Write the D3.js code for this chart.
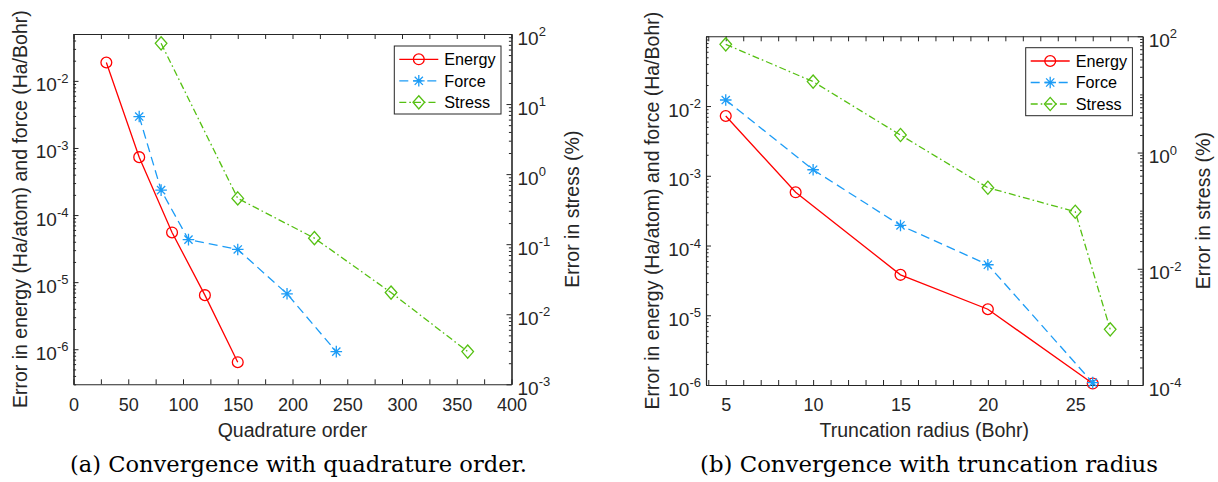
<!DOCTYPE html>
<html>
<head>
<meta charset="utf-8">
<script src="https://cdn.jsdelivr.net/npm/d3@7"></script>
<style>
  body { margin: 0; background: #fff; }
  svg { display: block; }
</style>
</head>
<body>
<svg id="fig" width="1218" height="482"></svg>
<script>
// ---- Panel (a): error versus quadrature order ----
const quadEnergyX = [30, 60, 90, 120, 150];
const quadEnergyY = [1.88e-2, 7.3e-4, 5.5e-5, 6.4e-6, 6.4e-7];
const quadForceX  = [60, 80, 105, 150, 195, 240];
const quadForceY  = [2.94e-3, 2.35e-4, 4.3e-5, 3.07e-5, 6.7e-6, 9.2e-7];
const quadStressX = [80, 150, 220, 290, 360];
const quadStressY = [73.6, 0.45, 0.122, 0.0204, 0.00293];

// ---- Panel (b): error versus truncation radius ----
const radEnergyX = [5, 9, 15, 20, 26];
const radEnergyY = [7.2e-3, 5.8e-4, 3.8e-5, 1.22e-5, 1.05e-6];
const radForceX  = [5, 10, 15, 20, 26];
const radForceY  = [1.22e-2, 1.22e-3, 1.94e-4, 5.3e-5, 1.08e-6];
const radStressX = [5, 10, 15, 20, 25, 27];
const radStressY = [72.8, 16.6, 2.0, 0.248, 0.0957, 9.06e-4];

// ---- Tick labels ----
const quadXTickLabels = [0, 50, 100, 150, 200, 250, 300, 350, 400];
const radXTickLabels  = [5, 10, 15, 20, 25];
const quadLeftExps  = [-6, -5, -4, -3, -2];
const quadRightExps = [-3, -2, -1, 0, 1, 2];
const radLeftExps   = [-6, -5, -4, -3, -2];
const radRightExps  = [-4, -2, 0, 2];

const seriesNames = ["Energy", "Force", "Stress"];

const svg = d3.select("#fig");
const FONT = "'Liberation Sans', Arial, Helvetica, sans-serif";
const SERIF = "'DejaVu Serif', 'Liberation Serif', serif";
const INK = "#262626";
const colors = { Energy: "#ff0000", Force: "#1c9cf6", Stress: "#55c012" };
const dashes = { Energy: null, Force: "9,5", Stress: "7,3,1.6,3" };

svg.append("rect").attr("width", 1218).attr("height", 482).attr("fill", "#fff");

function markerPath(kind) {
  if (kind === "Energy") {
    const r = 5.4;
    return `M${-r},0a${r},${r} 0 1,0 ${2 * r},0a${r},${r} 0 1,0 ${-2 * r},0Z`;
  }
  if (kind === "Force") {
    const a = 5.8, b = 4.1;
    return `M${-a},0H${a}M0,${-a}V${a}M${-b},${-b}L${b},${b}M${-b},${b}L${b},${-b}`;
  }
  const w = 5.8, h = 6.6;
  return `M0,${-h}L${w},0L0,${h}L${-w},0Z`;
}

function minorValues(domain, majors) {
  const lo = Math.floor(Math.log10(domain[0])), hi = Math.ceil(Math.log10(domain[1]));
  const out = [];
  for (let n = lo; n <= hi; n++) {
    for (let k = 1; k <= 9; k++) {
      const v = k * Math.pow(10, n);
      if (v < domain[0] * 0.999 || v > domain[1] * 1.001) continue;
      if (k === 1 && majors.includes(n)) continue;
      out.push(v);
    }
  }
  return out;
}

function styleAxis(sel) {
  sel.attr("font-family", null).attr("font-size", null);
  sel.selectAll(".domain").attr("stroke", INK).attr("stroke-width", 1.1);
  sel.selectAll(".tick line").attr("stroke", INK).attr("stroke-width", 1);
  sel.selectAll(".tick text").attr("fill", INK).attr("font-family", FONT).attr("font-size", 18);
}

function powerLabels(sel) {
  sel.selectAll(".tick text").each(function (d) {
    const t = d3.select(this);
    const e = Math.round(Math.log10(d));
    t.text(null).attr("dy", null).attr("y", 10).attr("font-size", 19);
    t.append("tspan").text("10");
    t.append("tspan").attr("dy", -8.5).attr("font-size", 13).text(e);
  });
}

function drawPanel(p) {
  const g = svg.append("g");
  const x = d3.scaleLinear().domain(p.xDomain).range([p.left, p.right]);
  const yL = d3.scaleLog().domain(p.yLeftDomain).range([p.bottom, p.top]);
  const yR = d3.scaleLog().domain(p.yRightDomain).range([p.bottom, p.top]);

  // x axes (bottom with labels, top ticks only)
  g.append("g").attr("transform", `translate(0,${p.bottom})`)
    .call(d3.axisBottom(x).tickValues(p.xTicks).tickSizeInner(-5).tickSizeOuter(0).tickPadding(13.5)
      .tickFormat(d => p.xTickLabels.includes(d) ? d : ""))
    .call(styleAxis);
  g.append("g").attr("transform", `translate(0,${p.top})`)
    .call(d3.axisTop(x).tickValues(p.xTicks).tickSizeInner(-5).tickSizeOuter(0).tickFormat(""))
    .call(styleAxis);

  // left log axis
  g.append("g").attr("transform", `translate(${p.left},0)`)
    .call(d3.axisLeft(yL).tickValues(minorValues(p.yLeftDomain, p.leftExps)).tickSizeInner(-2.6).tickSizeOuter(0).tickFormat(""))
    .call(styleAxis);
  g.append("g").attr("transform", `translate(${p.left},0)`)
    .call(d3.axisLeft(yL).tickValues(p.leftExps.map(e => Math.pow(10, e))).tickSizeInner(-5).tickSizeOuter(0).tickPadding(5))
    .call(styleAxis).call(powerLabels);

  // right log axis
  g.append("g").attr("transform", `translate(${p.right},0)`)
    .call(d3.axisRight(yR).tickValues(minorValues(p.yRightDomain, p.rightExps)).tickSizeInner(-2.6).tickSizeOuter(0).tickFormat(""))
    .call(styleAxis);
  g.append("g").attr("transform", `translate(${p.right},0)`)
    .call(d3.axisRight(yR).tickValues(p.rightExps.map(e => Math.pow(10, e))).tickSizeInner(-5).tickSizeOuter(0).tickPadding(6))
    .call(styleAxis).call(powerLabels);

  // data series
  p.series.forEach(s => {
    const y = s.name === "Stress" ? yR : yL;
    const pts = s.xs.map((v, i) => [x(v), y(s.ys[i])]);
    g.append("path").attr("d", d3.line()(pts))
      .attr("fill", "none").attr("stroke", colors[s.name]).attr("stroke-width", 1.3)
      .attr("stroke-dasharray", dashes[s.name]);
    g.selectAll(null).data(pts).join("path")
      .attr("transform", d => `translate(${d[0]},${d[1]})`)
      .attr("d", markerPath(s.name))
      .attr("fill", "none").attr("stroke", colors[s.name]).attr("stroke-width", 1.3);
  });

  // axis titles
  const midY = (p.top + p.bottom) / 2;
  g.append("text").attr("x", (p.left + p.right) / 2).attr("y", 436.5)
    .attr("text-anchor", "middle").attr("font-family", FONT).attr("font-size", 19.5).attr("fill", INK)
    .text(p.xLabel);
  g.append("text").attr("transform", `translate(${p.left - 47},${midY}) rotate(-90)`)
    .attr("text-anchor", "middle").attr("font-family", FONT).attr("font-size", 19.5).attr("fill", INK)
    .text("Error in energy (Ha/atom) and force (Ha/Bohr)");
  g.append("text").attr("transform", `translate(${p.right + 67.5},${midY}) rotate(-90)`)
    .attr("text-anchor", "middle").attr("font-family", FONT).attr("font-size", 19.5).attr("fill", INK)
    .text("Error in stress (%)");

  // legend
  const lg = g.append("g").attr("transform", `translate(${p.legendX},${p.legendY})`);
  lg.append("rect").attr("width", 106.7).attr("height", 68)
    .attr("fill", "#fff").attr("stroke", INK).attr("stroke-width", 1);
  seriesNames.forEach((name, i) => {
    const ry = 13.3 + i * 21.5;
    lg.append("line").attr("x1", 5).attr("x2", 44).attr("y1", ry).attr("y2", ry)
      .attr("stroke", colors[name]).attr("stroke-width", 1.3).attr("stroke-dasharray", dashes[name]);
    lg.append("path").attr("transform", `translate(24.5,${ry})`).attr("d", markerPath(name))
      .attr("fill", "none").attr("stroke", colors[name]).attr("stroke-width", 1.3);
    lg.append("text").attr("x", 50).attr("y", ry + 5.8)
      .attr("font-family", FONT).attr("font-size", 16.2).attr("fill", "#000").text(name);
  });

  // caption
  g.append("text").attr("x", p.captionX).attr("y", 472)
    .attr("font-family", SERIF).attr("font-size", 22).attr("fill", "#000")
    .attr("textLength", p.captionWidth).attr("lengthAdjust", "spacingAndGlyphs")
    .text(p.caption);
}

drawPanel({
  left: 73.5, right: 511.5, top: 34, bottom: 384.3,
  xDomain: [0, 400], yLeftDomain: [3e-7, 5e-2], yRightDomain: [1e-3, 1e2],
  xTicks: d3.range(0, 401, 25), xTickLabels: quadXTickLabels,
  leftExps: quadLeftExps, rightExps: quadRightExps,
  xLabel: "Quadrature order",
  series: [
    { name: "Energy", xs: quadEnergyX, ys: quadEnergyY },
    { name: "Force", xs: quadForceX, ys: quadForceY },
    { name: "Stress", xs: quadStressX, ys: quadStressY }
  ],
  legendX: 394.3, legendY: 46,
  caption: "(a) Convergence with quadrature order.", captionX: 70, captionWidth: 457
});

drawPanel({
  left: 706, right: 1142.7, top: 36.3, bottom: 385,
  xDomain: [3.87, 28.86], yLeftDomain: [1e-6, 1e-1], yRightDomain: [1e-4, 1e2],
  xTicks: d3.range(4, 29, 1), xTickLabels: radXTickLabels,
  leftExps: radLeftExps, rightExps: radRightExps,
  xLabel: "Truncation radius (Bohr)",
  series: [
    { name: "Energy", xs: radEnergyX, ys: radEnergyY },
    { name: "Force", xs: radForceX, ys: radForceY },
    { name: "Stress", xs: radStressX, ys: radStressY }
  ],
  legendX: 1025.7, legendY: 47.7,
  caption: "(b) Convergence with truncation radius", captionX: 700, captionWidth: 458
});
</script>
</body>
</html>
